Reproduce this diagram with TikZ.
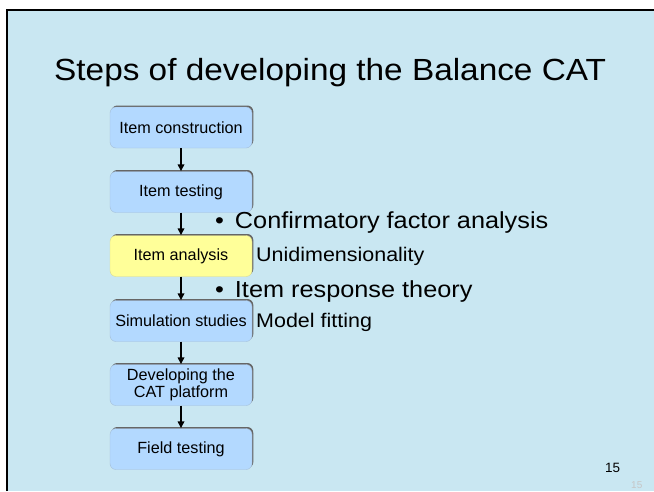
\documentclass[tikz,border=0pt]{standalone}
\usepackage{fontspec}
\usepackage{graphicx}
\setmainfont{Liberation Sans}
\usetikzlibrary{arrows.meta,shadows}
\definecolor{slidebg}{RGB}{201,231,242}
\definecolor{stepblue}{RGB}{179,217,255}
\definecolor{stepyellow}{RGB}{255,255,153}
% slide text is set slightly wide
\newcommand\widetext[1]{\scalebox{1.09}[1]{#1}}
\tikzset{
  stepbox/.style={draw=stepblue!70!gray, line width=0.4pt, fill=stepblue, rounded corners=6,
    minimum width=142, minimum height=41, inner sep=0pt, align=center,
    font=\fontsize{16.2}{17.5}\selectfont,
    drop shadow={shadow xshift=1.3, shadow yshift=-1.5, fill=gray!80!black, opacity=1}},
  flowarrow/.style={-{Triangle[length=7,width=6.5]}, line width=1.6},
  bigbullet/.style={anchor=base west, inner sep=0pt, font=\fontsize{23.2}{28}\selectfont},
  subline/.style={anchor=base west, inner sep=0pt, font=\fontsize{19.7}{24}\selectfont},
}
\begin{document}
\begin{tikzpicture}[x=1pt,y=-1pt]
  \useasboundingbox (0,0) rectangle (654,491);
  % slide background and frame
  \fill[white] (0,0) rectangle (654,491);
  \fill[slidebg] (6,9) rectangle (654,491);
  \draw[black, line width=2.4] (7.2,491) -- (7.2,10.2) -- (654,10.2);

  % title
  \node[anchor=base west, inner sep=0pt, font=\fontsize{30.6}{36}\selectfont] (title) at (54,80)
    {\widetext{Steps of developing the Balance CAT}};

  % process steps
  \node[stepbox] (s1) at (181,127.5) {Item construction};
  \node[stepbox] (s2) at (181,192) {Item testing};
  \node[stepbox, fill=stepyellow, draw=stepyellow!70!gray] (s3) at (181,256) {Item analysis};
  \node[stepbox] (s4) at (181,321) {Simulation studies};
  \node[stepbox] (s5) at (181,385) {Developing the\\CAT platform};
  \node[stepbox] (s6) at (181,449) {Field testing};

  \draw[flowarrow] (s1) -- (s2);
  \draw[flowarrow] (s2) -- (s3);
  \draw[flowarrow] (s3) -- (s4);
  \draw[flowarrow] (s4) -- (s5);
  \draw[flowarrow] (s5) -- (s6);

  % analysis notes
  \node[bigbullet] (b1) at (215,228) {\widetext{\textbullet\hspace{10pt}Confirmatory factor analysis}};
  \node[subline] (u1) at (256,261) {\widetext{Unidimensionality}};
  \node[bigbullet] (b2) at (215,297) {\widetext{\textbullet\hspace{10pt}Item response theory}};
  \node[subline] (u2) at (256,327) {\widetext{Model fitting}};

  % page numbers
  \node[anchor=base west, inner sep=0pt, font=\fontsize{13.5}{15}\selectfont] (pg) at (605,472) {15};
  \node[anchor=base west, inner sep=0pt, font=\fontsize{10}{11}\selectfont, text=gray!45] (pgs) at (631,488) {15};
\end{tikzpicture}
\end{document}
